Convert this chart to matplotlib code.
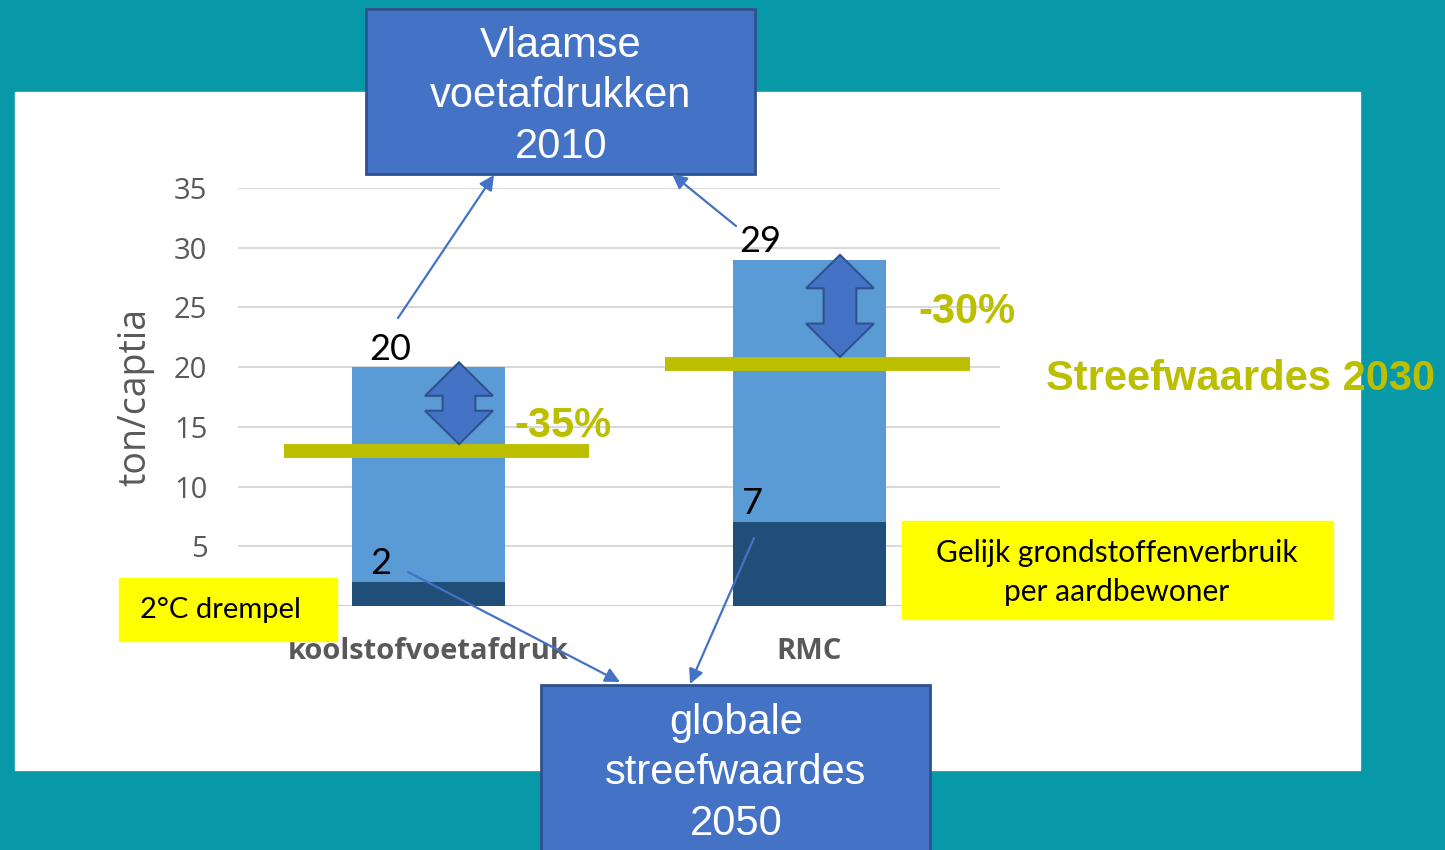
import matplotlib.pyplot as plt
from matplotlib.patches import Rectangle, Polygon

# data
categories = ['koolstofvoetafdruk', 'RMC']
values_2010 = [20, 29]        # Vlaamse voetafdrukken 2010
values_2050 = [2, 7]          # globale streefwaardes 2050
reductions = [35, 30]         # streefwaardes 2030 (%)
targets_2030 = [v * (1 - r / 100) for v, r in zip(values_2010, reductions)]
yticks = [5, 10, 15, 20, 25, 30, 35]

teal = '#0799A8'
light_blue = '#5B9BD5'
dark_blue = '#1F4E79'
box_blue = '#4472C4'
box_edge = '#2F528F'
green = '#BBBF00'
gray = '#595959'

W, H = 1445, 850
fig = plt.figure(figsize=(W / 100, H / 100), dpi=100, facecolor=teal)

# achtergrond met wit vlak
bg = fig.add_axes([0, 0, 1, 1], zorder=0)
bg.set_xlim(0, W)
bg.set_ylim(H, 0)
bg.axis('off')
bg.add_patch(Rectangle((15, 92), 1345, 678, color='white'))

# grafiek
ax = fig.add_axes([238 / W, (H - 606) / H, 762 / W, 418 / H], zorder=1)
ax.set_facecolor('none')
x = [0, 1]
ax.bar(x, values_2050, width=0.4, color=dark_blue, zorder=2)
ax.bar(x, [a - b for a, b in zip(values_2010, values_2050)], width=0.4,
       bottom=values_2050, color=light_blue, zorder=2)
ax.set_xlim(-0.5, 1.5)
ax.set_ylim(0, 35)
ax.set_yticks(yticks)
ax.grid(axis='y', color='#D9D9D9', lw=1.5, zorder=1)
ax.axhline(0, color='#D0D0D0', lw=1.5, zorder=1)
for s in ax.spines.values():
    s.set_visible(False)
ax.tick_params(length=0)
ax.tick_params(axis='y', pad=22, labelsize=21, labelcolor=gray)
ax.tick_params(axis='x', pad=22, labelsize=21, labelcolor=gray)
ax.set_xticks(x)
ax.set_xticklabels(categories, fontweight='bold', fontfamily='Open Sans')
for t in ax.get_yticklabels():
    t.set_fontfamily('Open Sans')
ax.set_ylabel('ton/captia', fontsize=27, color=gray, fontfamily='Open Sans',
              labelpad=14)

# streefwaardes 2030
ax.hlines(targets_2030, [c - 0.38 for c in x], [c + 0.42 for c in x],
          color=green, lw=10, zorder=3)

# dubbele pijlen
for c, top, bot in zip(x, values_2010, targets_2030):
    cx = c + 0.08
    yt = top + 0.4
    yb = bot + 0.55
    hw, sw, hh = 0.089, 0.043, 2.8
    pts = [(cx, yt), (cx + hw, yt - hh), (cx + sw, yt - hh), (cx + sw, yb + hh),
           (cx + hw, yb + hh), (cx, yb), (cx - hw, yb + hh), (cx - sw, yb + hh),
           (cx - sw, yt - hh), (cx - hw, yt - hh)]
    ax.add_patch(Polygon(pts, closed=True, facecolor=box_blue,
                         edgecolor=box_edge, lw=1.5, zorder=4))

pct_pos = [(0.225, 15.1), (1.285, 24.6)]
for (px, py), r in zip(pct_pos, reductions):
    ax.text(px, py, f'-{r}%', color=green, fontsize=30, fontweight='bold',
            fontfamily='Liberation Sans', va='center', ha='left', zorder=5)

# waardelabels
for c, v, dx in zip(x, values_2010, [-0.10, -0.13]):
    ax.text(c + dx, v + 1.5, str(v), fontsize=26, fontfamily='Lato',
            ha='center', va='center', zorder=5)
for c, v, dx in zip(x, values_2050, [-0.125, -0.15]):
    ax.text(c + dx, v + 1.6, str(v), fontsize=26, fontfamily='Lato',
            ha='center', va='center', zorder=5)

# annotaties
ov = fig.add_axes([0, 0, 1, 1], zorder=2)
ov.set_facecolor('none')
ov.set_xlim(0, W)
ov.set_ylim(H, 0)
ov.axis('off')

ov.text(1046, 379, 'Streefwaardes 2030', color=green, fontsize=30,
        fontweight='bold', fontfamily='Liberation Sans', va='center', ha='left')

# gele kaders
ov.add_patch(Rectangle((119, 578), 218, 63, color='#FFFF00'))
ov.text(140, 610, '2°C drempel', fontsize=21, fontfamily='Lato',
        va='center', ha='left')
ov.add_patch(Rectangle((902, 521), 431, 98, color='#FFFF00'))
ov.text(1117, 553, 'Gelijk grondstoffenverbruik', fontsize=21.5,
        fontfamily='Lato', va='center', ha='center')
ov.text(1117, 592, 'per aardbewoner', fontsize=21.5, fontfamily='Lato',
        va='center', ha='center')

# blauwe kaders
ov.add_patch(Rectangle((366, 9), 389, 165, facecolor=box_blue,
                       edgecolor=box_edge, lw=2))
for yy, line in zip([46, 96, 147], ['Vlaamse', 'voetafdrukken', '2010']):
    ov.text(561, yy, line, color='white', fontsize=30,
            fontfamily='Liberation Sans', ha='center', va='center')
ov.add_patch(Rectangle((541, 685), 389, 180, facecolor=box_blue,
                       edgecolor=box_edge, lw=2))
for yy, line in zip([723, 773, 824], ['globale', 'streefwaardes', '2050']):
    ov.text(736, yy, line, color='white', fontsize=30,
            fontfamily='Liberation Sans', ha='center', va='center')

# verbindingspijlen
arrows = [((398, 318), (494, 175)), ((736, 226), (672, 174)),
          ((408, 572), (620, 682)), ((754, 538), (690, 684))]
for start, end in arrows:
    ov.annotate('', xy=end, xytext=start,
                arrowprops=dict(arrowstyle='-|>', color=box_blue, lw=1.6,
                                mutation_scale=22, shrinkA=0, shrinkB=0))

fig.savefig('out.png', dpi=100, facecolor=teal)
